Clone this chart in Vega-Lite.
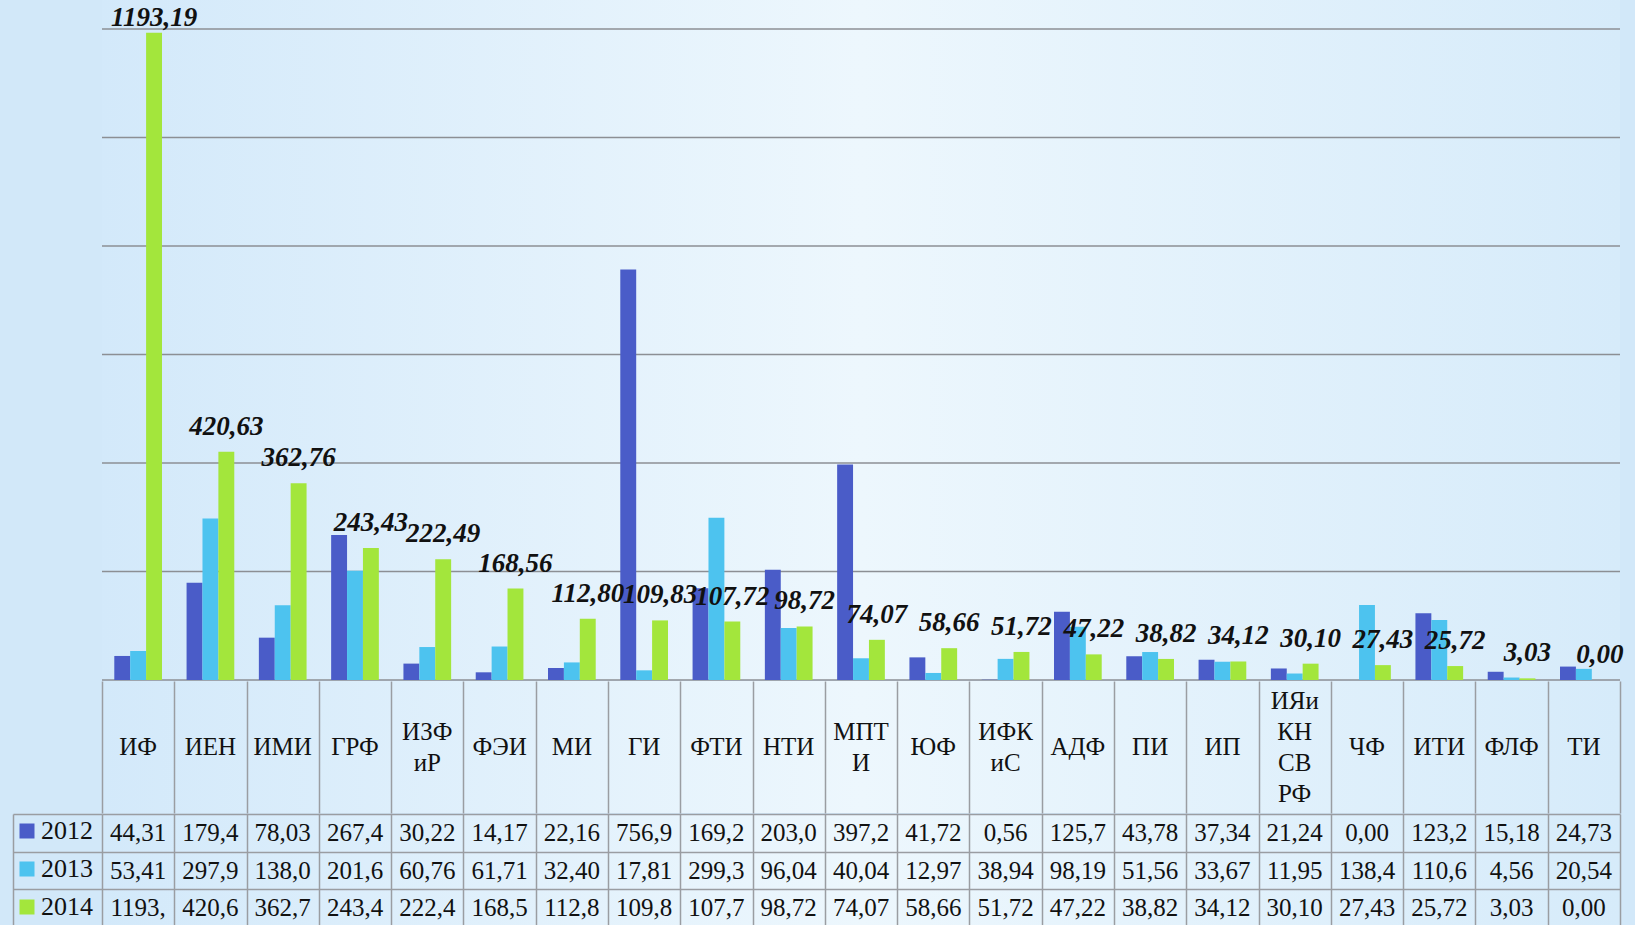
{
  "$schema": "https://vega.github.io/schema/vega-lite/v6.json",
  "background": "#d2e8f9",
  "padding": {"left": 12, "top": 0, "right": 15, "bottom": 0},
  "autosize": {"type": "pad"},
  "config": {
    "view": {"stroke": null},
    "font": "Liberation Serif",
    "locale": {"number": {"decimal": ",", "thousands": " ", "grouping": [3], "currency": ["", ""]}},
    "concat": {"spacing": 0}
  },
  "datasets": {
    "grid": [{"g": 0}, {"g": 200}, {"g": 400}, {"g": 600}, {"g": 800}, {"g": 1000}, {"g": 1200}],
    "long": [
      {"cat": "ИФ", "year": "2012", "value": 44.31, "txt": "44,31"},
      {"cat": "ИФ", "year": "2013", "value": 53.41, "txt": "53,41"},
      {"cat": "ИФ", "year": "2014", "value": 1193.19, "txt": "1193,"},
      {"cat": "ИЕН", "year": "2012", "value": 179.4, "txt": "179,4"},
      {"cat": "ИЕН", "year": "2013", "value": 297.9, "txt": "297,9"},
      {"cat": "ИЕН", "year": "2014", "value": 420.63, "txt": "420,6"},
      {"cat": "ИМИ", "year": "2012", "value": 78.03, "txt": "78,03"},
      {"cat": "ИМИ", "year": "2013", "value": 138.0, "txt": "138,0"},
      {"cat": "ИМИ", "year": "2014", "value": 362.76, "txt": "362,7"},
      {"cat": "ГРФ", "year": "2012", "value": 267.4, "txt": "267,4"},
      {"cat": "ГРФ", "year": "2013", "value": 201.6, "txt": "201,6"},
      {"cat": "ГРФ", "year": "2014", "value": 243.43, "txt": "243,4"},
      {"cat": "ИЗФ\nиР", "year": "2012", "value": 30.22, "txt": "30,22"},
      {"cat": "ИЗФ\nиР", "year": "2013", "value": 60.76, "txt": "60,76"},
      {"cat": "ИЗФ\nиР", "year": "2014", "value": 222.49, "txt": "222,4"},
      {"cat": "ФЭИ", "year": "2012", "value": 14.17, "txt": "14,17"},
      {"cat": "ФЭИ", "year": "2013", "value": 61.71, "txt": "61,71"},
      {"cat": "ФЭИ", "year": "2014", "value": 168.56, "txt": "168,5"},
      {"cat": "МИ", "year": "2012", "value": 22.16, "txt": "22,16"},
      {"cat": "МИ", "year": "2013", "value": 32.40, "txt": "32,40"},
      {"cat": "МИ", "year": "2014", "value": 112.80, "txt": "112,8"},
      {"cat": "ГИ", "year": "2012", "value": 756.9, "txt": "756,9"},
      {"cat": "ГИ", "year": "2013", "value": 17.81, "txt": "17,81"},
      {"cat": "ГИ", "year": "2014", "value": 109.83, "txt": "109,8"},
      {"cat": "ФТИ", "year": "2012", "value": 169.2, "txt": "169,2"},
      {"cat": "ФТИ", "year": "2013", "value": 299.3, "txt": "299,3"},
      {"cat": "ФТИ", "year": "2014", "value": 107.72, "txt": "107,7"},
      {"cat": "НТИ", "year": "2012", "value": 203.0, "txt": "203,0"},
      {"cat": "НТИ", "year": "2013", "value": 96.04, "txt": "96,04"},
      {"cat": "НТИ", "year": "2014", "value": 98.72, "txt": "98,72"},
      {"cat": "МПТ\nИ", "year": "2012", "value": 397.2, "txt": "397,2"},
      {"cat": "МПТ\nИ", "year": "2013", "value": 40.04, "txt": "40,04"},
      {"cat": "МПТ\nИ", "year": "2014", "value": 74.07, "txt": "74,07"},
      {"cat": "ЮФ", "year": "2012", "value": 41.72, "txt": "41,72"},
      {"cat": "ЮФ", "year": "2013", "value": 12.97, "txt": "12,97"},
      {"cat": "ЮФ", "year": "2014", "value": 58.66, "txt": "58,66"},
      {"cat": "ИФК\nиС", "year": "2012", "value": 0.56, "txt": "0,56"},
      {"cat": "ИФК\nиС", "year": "2013", "value": 38.94, "txt": "38,94"},
      {"cat": "ИФК\nиС", "year": "2014", "value": 51.72, "txt": "51,72"},
      {"cat": "АДФ", "year": "2012", "value": 125.7, "txt": "125,7"},
      {"cat": "АДФ", "year": "2013", "value": 98.19, "txt": "98,19"},
      {"cat": "АДФ", "year": "2014", "value": 47.22, "txt": "47,22"},
      {"cat": "ПИ", "year": "2012", "value": 43.78, "txt": "43,78"},
      {"cat": "ПИ", "year": "2013", "value": 51.56, "txt": "51,56"},
      {"cat": "ПИ", "year": "2014", "value": 38.82, "txt": "38,82"},
      {"cat": "ИП", "year": "2012", "value": 37.34, "txt": "37,34"},
      {"cat": "ИП", "year": "2013", "value": 33.67, "txt": "33,67"},
      {"cat": "ИП", "year": "2014", "value": 34.12, "txt": "34,12"},
      {"cat": "ИЯи\nКН\nСВ\nРФ", "year": "2012", "value": 21.24, "txt": "21,24"},
      {"cat": "ИЯи\nКН\nСВ\nРФ", "year": "2013", "value": 11.95, "txt": "11,95"},
      {"cat": "ИЯи\nКН\nСВ\nРФ", "year": "2014", "value": 30.10, "txt": "30,10"},
      {"cat": "ЧФ", "year": "2012", "value": 0.0, "txt": "0,00"},
      {"cat": "ЧФ", "year": "2013", "value": 138.4, "txt": "138,4"},
      {"cat": "ЧФ", "year": "2014", "value": 27.43, "txt": "27,43"},
      {"cat": "ИТИ", "year": "2012", "value": 123.2, "txt": "123,2"},
      {"cat": "ИТИ", "year": "2013", "value": 110.6, "txt": "110,6"},
      {"cat": "ИТИ", "year": "2014", "value": 25.72, "txt": "25,72"},
      {"cat": "ФЛФ", "year": "2012", "value": 15.18, "txt": "15,18"},
      {"cat": "ФЛФ", "year": "2013", "value": 4.56, "txt": "4,56"},
      {"cat": "ФЛФ", "year": "2014", "value": 3.03, "txt": "3,03"},
      {"cat": "ТИ", "year": "2012", "value": 24.73, "txt": "24,73"},
      {"cat": "ТИ", "year": "2013", "value": 20.54, "txt": "20,54"},
      {"cat": "ТИ", "year": "2014", "value": 0.0, "txt": "0,00"}
    ]
  },
  "resolve": {"scale": {"x": "independent", "y": "independent"}},
  "vconcat": [
    {
      "width": 1518,
      "height": 680,
      "layer": [
        {
          "data": {"name": "grid"},
          "transform": [{"filter": "datum.g == 0"}],
          "mark": {"type": "rect", "color": {"gradient": "linear", "x1": 0, "y1": 0, "x2": 1, "y2": 0, "stops": [{"offset": 0, "color": "#d3e9fa"}, {"offset": 0.5, "color": "#edf7fd"}, {"offset": 1, "color": "#d6ebfa"}]}},
          "encoding": {}
        },
        {
          "data": {"name": "grid"},
          "mark": {"type": "rule", "color": "#8c8f94", "strokeWidth": 1.6},
          "encoding": {
            "y": {"field": "g", "type": "quantitative", "scale": {"domain": [0, 1253.46], "nice": false}, "axis": null}
          }
        },
        {
          "data": {"name": "long"},
          "mark": {"type": "bar"},
          "encoding": {
            "x": {"field": "cat", "type": "nominal", "sort": null, "scale": {"paddingInner": 0.34, "paddingOuter": 0.17}, "axis": null},
            "xOffset": {"field": "year", "type": "nominal", "sort": null, "scale": {"paddingInner": 0, "paddingOuter": 0}},
            "y": {"field": "value", "type": "quantitative", "axis": null},
            "color": {"field": "year", "type": "nominal", "sort": null, "scale": {"range": ["#4a5cc8", "#4dc3ef", "#a3e63c"]},
              "legend": {"orient": "none", "legendX": -88, "legendY": 818, "direction": "vertical", "title": null, "padding": 0, "symbolType": "square", "symbolSize": 225, "symbolStrokeWidth": 0, "symbolOpacity": 1, "labelFont": "Liberation Serif", "labelFontSize": 26, "labelColor": "#111111", "labelOffset": 1, "rowPadding": 12}}
          }
        },
        {
          "data": {"name": "long"},
          "transform": [{"filter": "datum.year == '2014'"}],
          "mark": {"type": "text", "font": "Liberation Serif", "fontSize": 27, "fontStyle": "italic", "fontWeight": "bold", "baseline": "alphabetic", "color": "#111111", "dy": {"expr": "datum.value > 1000 ? -7 : -17"}},
          "encoding": {
            "x": {"field": "cat", "type": "nominal", "sort": null},
            "xOffset": {"field": "year", "type": "nominal", "sort": null},
            "y": {"field": "value", "type": "quantitative"},
            "text": {"field": "value", "type": "quantitative", "format": ".2f"}
          }
        }
      ]
    },
    {
      "width": 1518,
      "height": 132,
      "data": {"name": "long"},
      "layer": [
        {
          "transform": [{"filter": "datum.cat == 'ИФ' && datum.year == '2012'"}],
          "mark": {"type": "rect", "color": {"gradient": "linear", "x1": 0, "y1": 0, "x2": 1, "y2": 0, "stops": [{"offset": 0, "color": "#d3e9fa"}, {"offset": 0.5, "color": "#edf7fd"}, {"offset": 1, "color": "#d6ebfa"}]}},
          "encoding": {}
        },
        {
          "transform": [{"filter": "datum.year == '2012'"}],
          "mark": {"type": "text", "font": "Liberation Serif", "fontSize": 25, "lineBreak": "\n", "lineHeight": 31, "color": "#111111", "baseline": "middle", "dy": {"expr": "-(length(split(datum.cat, '\\n')) - 1) * 15.5"}},
          "encoding": {
            "x": {"field": "cat", "type": "nominal", "sort": null, "scale": {"paddingInner": 0, "paddingOuter": 0},
              "axis": {"labels": false, "ticks": false, "domain": false, "title": null, "grid": true, "tickBand": "extent", "gridColor": "#9a9da2", "gridWidth": 1.5, "gridOpacity": 1, "zindex": 1}},
            "text": {"field": "cat"}
          }
        }
      ]
    },
    {
      "width": 1518,
      "height": 113,
      "data": {"name": "long"},
      "layer": [
        {
          "transform": [{"filter": "datum.cat == 'ИФ' && datum.year == '2012'"}],
          "mark": {"type": "rect", "color": {"gradient": "linear", "x1": 0, "y1": 0, "x2": 1, "y2": 0, "stops": [{"offset": 0, "color": "#d3e9fa"}, {"offset": 0.5, "color": "#edf7fd"}, {"offset": 1, "color": "#d6ebfa"}]}},
          "encoding": {}
        },
        {
          "mark": {"type": "text", "font": "Liberation Serif", "fontSize": 25, "color": "#111111", "baseline": "middle"},
          "encoding": {
            "x": {"field": "cat", "type": "nominal", "sort": null, "scale": {"paddingInner": 0, "paddingOuter": 0},
              "axis": {"labels": false, "ticks": false, "domain": false, "title": null, "grid": true, "tickBand": "extent", "gridColor": "#9a9da2", "gridWidth": 1.5, "gridOpacity": 1, "zindex": 1}},
            "y": {"field": "year", "type": "nominal", "sort": null, "scale": {"paddingInner": 0, "paddingOuter": 0},
              "axis": {"orient": "left", "title": null, "labels": false, "offset": 89, "ticks": true, "tickSize": -89, "tickBand": "extent", "tickColor": "#9a9da2", "tickWidth": 1.5, "domain": true, "domainColor": "#9a9da2", "domainWidth": 1.5, "grid": true, "gridColor": "#9a9da2", "gridWidth": 1.5, "gridOpacity": 1, "zindex": 1}},
            "text": {"field": "txt"}
          }
        }
      ]
    }
  ]
}
